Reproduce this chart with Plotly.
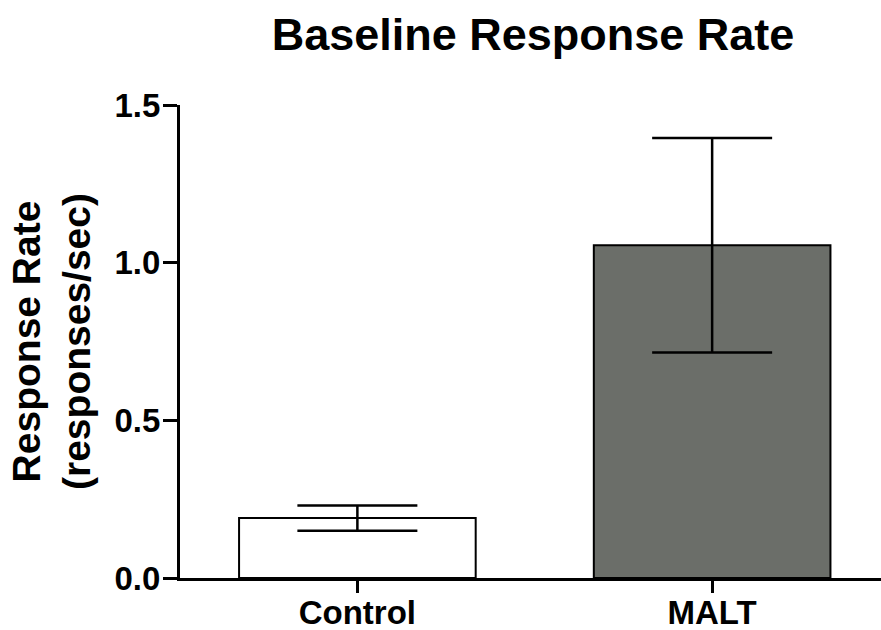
import plotly.graph_objects as go

categories = ["Control", "MALT"]
means = [0.19, 1.055]
sem = [0.04, 0.34]
fill_colors = ["#ffffff", "#6b6e69"]
y_ticks = [0.0, 0.5, 1.0, 1.5]
y_tick_labels = ["0.0", "0.5", "1.0", "1.5"]

FONT = "Liberation Sans, Arial, sans-serif"

fig = go.Figure()
fig.add_trace(go.Bar(
    x=categories,
    y=means,
    width=0.667,
    marker=dict(color=fill_colors, line=dict(color="black", width=2)),
    error_y=dict(type="data", array=sem, visible=True, color="black",
                 thickness=2.5, width=60),
    showlegend=False,
))

fig.update_layout(
    width=881, height=630,
    margin=dict(l=180, r=0, t=105, b=52, autoexpand=False),
    paper_bgcolor="white", plot_bgcolor="white",
    title=dict(text="Baseline Response Rate", x=0.605, xanchor="center",
               y=0.946, yanchor="middle", yref="container",
               font=dict(family=FONT, size=45, color="black", weight="bold")),
    font=dict(family=FONT, color="black"),
)
fig.update_xaxes(
    type="category", range=[-0.5, 1.476],
    showline=True, linewidth=3, linecolor="black",
    ticks="outside", ticklen=12, tickwidth=3, tickcolor="black",
    ticklabelstandoff=-9,
    tickfont=dict(family=FONT, size=33, color="black", weight="bold"),
    showgrid=False, zeroline=False, fixedrange=True,
)
fig.update_yaxes(
    range=[0, 1.5],
    tickvals=y_ticks, ticktext=y_tick_labels,
    showline=True, linewidth=3, linecolor="black",
    ticks="outside", ticklen=14, tickwidth=3, tickcolor="black",
    ticklabelstandoff=-4,
    tickfont=dict(family=FONT, size=33, color="black", weight="bold"),
    title=dict(text="Response Rate<br>(responses/sec)", standoff=12,
               font=dict(family=FONT, size=39, color="black", weight="bold")),
    showgrid=False, zeroline=False, fixedrange=True,
)

fig.write_html("out.html")
